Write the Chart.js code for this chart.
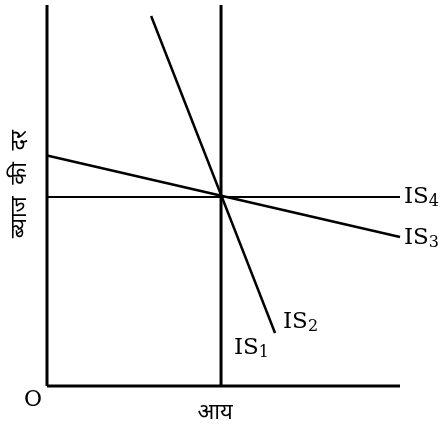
<!DOCTYPE html>
<html>
<head>
<meta charset="utf-8">
<script src="https://cdn.jsdelivr.net/npm/chart.js@4.4.1/dist/chart.umd.min.js"></script>
<style>
  body { margin: 0; background: #fff; }
  #wrap { width: 448px; height: 428px; position: relative; }
</style>
</head>
<body>
<div id="wrap"><canvas id="myChart"></canvas></div>
<script>
// axes (x: income, y: interest rate), both 0..10
const axisX = [0, 10];
const axisY = [0, 10];

// IS curves, two end points each
const is1X = [4.93, 4.93];
const is1Y = [0, 10];
const is2X = [2.95, 6.46];
const is2Y = [9.71, 1.39];
const is3X = [0, 10];
const is3Y = [6.05, 3.91];
const is4X = [0, 10];
const is4Y = [4.96, 4.96];

const curveNames = ["IS", "IS", "IS", "IS"];
const curveSubs = ["1", "2", "3", "4"];

const xTitle = "आय";
const yTitle = "ब्याज  की  दर";
const originLabel = "O";

const pts = (xs, ys) => xs.map((x, i) => ({ x: x, y: ys[i] }));

const line = (data, width) => ({
  data: data,
  showLine: true,
  borderColor: "#000",
  borderWidth: width,
  pointRadius: 0,
  clip: false,
});

const data = {
  datasets: [
    line(pts([axisX[0], axisX[0]], axisY), 3),   // y axis
    line(pts(axisX, [axisY[0], axisY[0]]), 3),   // x axis
    line(pts(is1X, is1Y), 3),
    line(pts(is2X, is2Y), 2.5),
    line(pts(is3X, is3Y), 2.5),
    line(pts(is4X, is4Y), 2),
  ],
};

// text labels drawn at data positions
const labelPlugin = {
  id: "labels",
  afterDatasetsDraw(chart) {
    const ctx = chart.ctx;
    const xs = chart.scales.x;
    const ys = chart.scales.y;
    const px = (v) => xs.getPixelForValue(v);
    const py = (v) => ys.getPixelForValue(v);

    const drawIS = (i, x, y) => {
      ctx.save();
      ctx.fillStyle = "#000";
      ctx.textBaseline = "middle";
      ctx.textAlign = "left";
      ctx.font = "23px 'DejaVu Serif', serif";
      ctx.fillText(curveNames[i], x, y);
      const w = ctx.measureText(curveNames[i]).width;
      ctx.font = "16px 'DejaVu Serif', serif";
      ctx.fillText(curveSubs[i], x + w, y + 5);
      ctx.restore();
    };

    drawIS(0, px(is1X[0]) + 13, py(1.0));
    drawIS(1, px(is2X[1]) + 8, py(is2Y[1]) - 11);
    drawIS(2, px(is3X[1]) + 4, py(is3Y[1]) + 1);
    drawIS(3, px(is4X[1]) + 4, py(is4Y[1]));

    ctx.save();
    ctx.fillStyle = "#000";
    ctx.textAlign = "center";
    ctx.textBaseline = "middle";
    ctx.font = "22px 'DejaVu Serif', serif";
    ctx.fillText(originLabel, px(axisX[0]) - 14, py(axisY[0]) + 14);

    ctx.font = "22px 'Noto Sans', sans-serif";
    ctx.fillText(xTitle, px(is1X[0]) - 6, py(axisY[0]) + 27);

    ctx.translate(px(axisX[0]) - 27, py(5.3));
    ctx.rotate(-Math.PI / 2);
    ctx.fillText(yTitle, 0, 0);
    ctx.restore();
  },
};

const config = {
  type: "scatter",
  data: data,
  options: {
    responsive: true,
    maintainAspectRatio: false,
    animation: false,
    layout: {
      padding: { left: 47, right: 48, top: 5, bottom: 42 },
    },
    plugins: {
      legend: { display: false },
      tooltip: { enabled: false },
    },
    scales: {
      x: { type: "linear", min: 0, max: 10, display: false },
      y: { type: "linear", min: 0, max: 10, display: false },
    },
  },
  plugins: [labelPlugin],
};

const myChart = new Chart(document.getElementById("myChart"), config);
</script>
</body>
</html>
